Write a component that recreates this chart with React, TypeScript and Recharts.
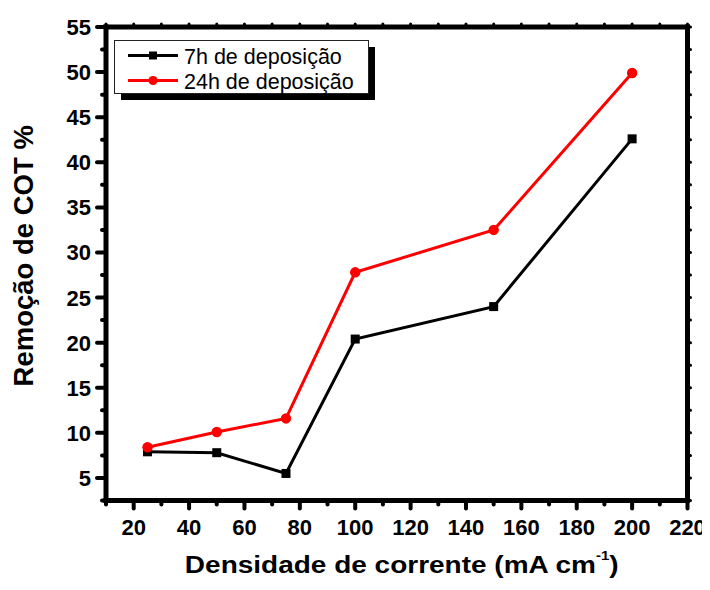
import React from 'react';
import { LineChart, Line, XAxis, YAxis, Legend, Label } from 'recharts';

const density = [25, 50, 75, 100, 150, 200];
const removal7h = [7.9, 7.8, 5.5, 20.4, 24.0, 42.6];
const removal24h = [8.4, 10.1, 11.6, 27.8, 32.5, 49.9];
const seriesNames = ['7h de deposição', '24h de deposição'];
const seriesColors = ['#000000', '#ff0000'];
const xTicks = [10, 20, 30, 40, 50, 60, 70, 80, 90, 100, 110, 120, 130, 140, 150, 160, 170, 180, 190, 200, 210, 220];
const yTicks = [2.5, 5, 7.5, 10, 12.5, 15, 17.5, 20, 22.5, 25, 27.5, 30, 32.5, 35, 37.5, 40, 42.5, 45, 47.5, 50, 52.5, 55];
const xTitle = 'Densidade de corrente (mA cm';
const yTitle = 'Remoção de COT %';

const data = density.map((d, i) => ({ x: d, a: removal7h[i], b: removal24h[i] }));

const FONT = '"Liberation Sans", Arial, sans-serif';

function BottomTick(props: any) {
  const { x, y, payload } = props;
  const v = payload.value;
  const major = v % 20 === 0;
  return (
    <g>
      <line x1={x} x2={x} y1={y} y2={y + (major ? 8 : 4)} stroke="#000" strokeWidth={4} strokeLinecap="round" />
      {major && (
        <text x={x} y={y + 34} textAnchor="middle" fontFamily={FONT} fontWeight="bold" fontSize={22} fill="#000">
          {v}
        </text>
      )}
    </g>
  );
}

function LeftTick(props: any) {
  const { x, y, payload } = props;
  const v = payload.value;
  const major = v % 5 === 0;
  return (
    <g>
      <line x1={x} x2={x - (major ? 9 : 4)} y1={y} y2={y} stroke="#000" strokeWidth={4} strokeLinecap="round" />
      {major && (
        <text x={x - 15} y={y + 8} textAnchor="end" fontFamily={FONT} fontWeight="bold" fontSize={22} fill="#000">
          {v}
        </text>
      )}
    </g>
  );
}

function TopTick(props: any) {
  const { x, y } = props;
  return <line x1={x} x2={x} y1={y} y2={y - 3} stroke="#000" strokeWidth={3} strokeLinecap="round" />;
}

function RightTick(props: any) {
  const { x, y } = props;
  return <line x1={x} x2={x + 3} y1={y} y2={y} stroke="#000" strokeWidth={3} strokeLinecap="round" />;
}

function XTitle(props: any) {
  const vb = props.viewBox || { x: 98, y: 492.5, width: 581.5, height: 40 };
  const cx = vb.x + vb.width / 2 + 5;
  const by = vb.y + 72;
  return (
    <g transform={`translate(${cx},${by}) scale(1,0.83)`}>
      <text x={0} y={0} textAnchor="middle" fontFamily={FONT} fontWeight="bold" fontSize={28} fill="#000">
        {xTitle}
        <tspan fontSize={15} dy={-15}>-1</tspan>
        <tspan dy={15}>)</tspan>
      </text>
    </g>
  );
}

function YTitle(props: any) {
  const vb = props.viewBox || { x: 38, y: 19, width: 60, height: 473.5 };
  const cy = vb.y + vb.height / 2 - 8;
  const bx = vb.x - 13;
  return (
    <text
      x={bx}
      y={cy}
      transform={`rotate(-90 ${bx} ${cy})`}
      textAnchor="middle"
      fontFamily={FONT}
      fontWeight="bold"
      fontSize={27.5}
      fill="#000"
    >
      {yTitle}
    </text>
  );
}

function SquareDot(props: any) {
  const { cx, cy } = props;
  if (cx == null || cy == null) return null;
  return <rect x={cx - 4.5} y={cy - 4.5} width={9} height={9} fill="#000" />;
}

function CircleDot(props: any) {
  const { cx, cy } = props;
  if (cx == null || cy == null) return null;
  return <circle cx={cx} cy={cy} r={5.2} fill="#ff0000" />;
}

function LegendBox(props: any) {
  const payload = [...(props.payload || [])].sort(
    (p: any, q: any) => seriesNames.indexOf(p.value) - seriesNames.indexOf(q.value)
  );
  const W = 254;
  const H = 53;
  return (
    <svg width={W + 9} height={H + 9} style={{ display: 'block', overflow: 'visible' }}>
      <rect x={7} y={7} width={W} height={H} fill="#000" />
      <rect x={0.5} y={0.5} width={W} height={H} fill="#fff" stroke="#222" strokeWidth={1} />
      {payload.map((p: any, i: number) => {
        const cy = 15.5 + i * 25;
        const color = p.color;
        return (
          <g key={i}>
            <line x1={14} x2={64} y1={cy} y2={cy} stroke={color} strokeWidth={3} />
            {p.type === 'square' ? (
              <rect x={35} y={cy - 4} width={8} height={8} fill={color} />
            ) : (
              <circle cx={39} cy={cy} r={4.6} fill={color} />
            )}
            <text x={70} y={cy + 8} fontFamily={FONT} fontSize={21.5} fill="#000">
              {p.value}
            </text>
          </g>
        );
      })}
    </svg>
  );
}

const axisLineStyle = { stroke: '#000', strokeWidth: 5, strokeLinecap: 'square' as const };

export default function App() {
  return (
    <LineChart
      width={702}
      height={582}
      data={data}
      margin={{ top: 9, right: 12.5, bottom: 49.5, left: 38 }}
      style={{ background: '#fff' }}
    >
      <XAxis
        dataKey="x"
        type="number"
        domain={[10, 220]}
        ticks={xTicks}
        interval={0}
        allowDataOverflow
        height={40}
        tickSize={0}
        tickMargin={0}
        tick={<BottomTick />}
        tickLine={false}
        axisLine={axisLineStyle}
      >
        <Label content={<XTitle />} />
      </XAxis>
      <XAxis
        xAxisId="top"
        orientation="top"
        dataKey="x"
        type="number"
        domain={[10, 220]}
        ticks={xTicks}
        interval={0}
        allowDataOverflow
        height={10}
        tickSize={0}
        tickMargin={0}
        tick={<TopTick />}
        tickLine={false}
        axisLine={axisLineStyle}
      />
      <YAxis
        type="number"
        domain={[2.5, 55]}
        ticks={yTicks}
        interval={0}
        allowDataOverflow
        width={60}
        tickSize={0}
        tickMargin={0}
        tick={<LeftTick />}
        tickLine={false}
        axisLine={axisLineStyle}
      >
        <Label content={<YTitle />} />
      </YAxis>
      <YAxis
        yAxisId="right"
        orientation="right"
        type="number"
        domain={[2.5, 55]}
        ticks={yTicks}
        interval={0}
        allowDataOverflow
        width={10}
        tickSize={0}
        tickMargin={0}
        tick={<RightTick />}
        tickLine={false}
        axisLine={axisLineStyle}
      />
      <Legend
        layout="horizontal"
        verticalAlign="middle"
        align="center"
        content={<LegendBox />}
        wrapperStyle={{ left: 105.5, top: 31.5, width: 270, height: 70 }}
      />
      <Line
        dataKey="a"
        name={seriesNames[0]}
        stroke={seriesColors[0]}
        strokeWidth={3}
        legendType="square"
        dot={<SquareDot />}
        activeDot={false}
        isAnimationActive={false}
      />
      <Line
        dataKey="b"
        name={seriesNames[1]}
        stroke={seriesColors[1]}
        strokeWidth={3}
        legendType="circle"
        dot={<CircleDot />}
        activeDot={false}
        isAnimationActive={false}
      />
    </LineChart>
  );
}
